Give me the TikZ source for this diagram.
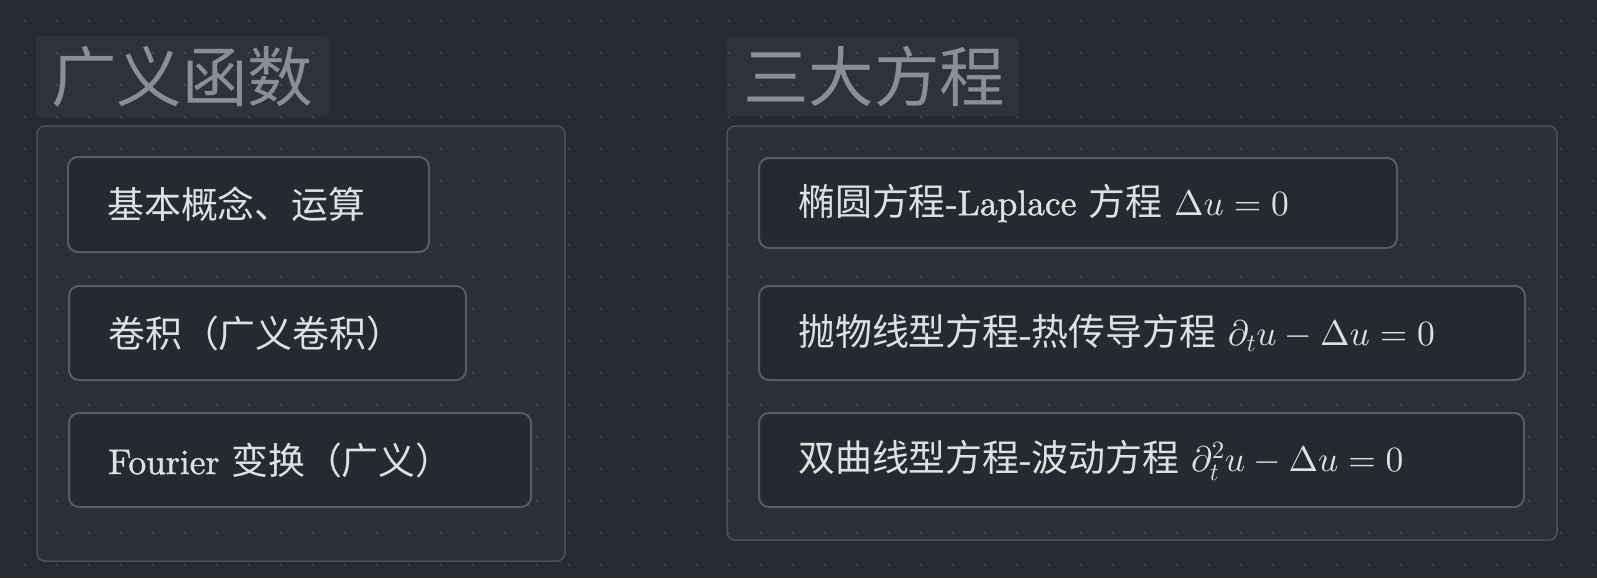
\documentclass[tikz,border=0pt]{standalone}
\usepackage{amsmath}
\usepackage{fontspec}
\setmainfont{lmroman10-regular.otf}[RawFeature={embolden=1.3}]
\newfontfamily\cjk{Noto Sans CJK SC}[Scale=1.04]
\DeclareFontShape{OT1}{cmr}{m}{n}{<->cmr10}{}
\DeclareFontShape{OML}{cmm}{m}{it}{<->cmmi10}{}
\DeclareFontShape{OMS}{cmsy}{m}{n}{<->cmsy10}{}
\DeclareFontShape{OMX}{cmex}{m}{n}{<->cmex10}{}
\definecolor{bgc}{HTML}{272A32}
\definecolor{dotc}{HTML}{42464F}
\definecolor{grpline}{HTML}{4B505B}
\definecolor{boxfill}{HTML}{262930}
\definecolor{boxline}{HTML}{575C68}
\definecolor{titlec}{HTML}{8A8E99}
\definecolor{txtc}{HTML}{DDE0E5}
\tikzset{
  grpbox/.style={draw=grpline, line width=1.5pt, fill=white, fill opacity=0.025, rounded corners=8pt, inner sep=0pt, draw opacity=1},
  titlebox/.style={fill=white, fill opacity=0.04, rounded corners=6pt, inner sep=0pt},
  itembox/.style={draw=boxline, line width=2pt, fill=boxfill, rounded corners=10pt, inner sep=0pt},
  itemtxt/.style={anchor=west, inner sep=0pt, text=txtc, font=\fontsize{35.5}{40}\selectfont},
  titletxt/.style={anchor=west, inner sep=0pt, text=titlec, font=\fontsize{63}{70}\selectfont\cjk},
}
\begin{document}
\begin{tikzpicture}[x=1pt, y=-1pt]
\useasboundingbox (0,0) rectangle (1597,578);
\fill[bgc] (0,0) rectangle (1597,578);
\foreach \i in {0,...,49}{
  \foreach \j in {0,...,17}{
    \fill[dotc] (25+32*\i, 21+32*\j) circle (1.4pt);
  }
}
% left column
\node[titlebox, minimum width=293pt, minimum height=81pt] (ltitle) at (182.5,76.5) {};
\node[titletxt] (ltitlet) at ([xshift=15pt]ltitle.west) {广义函数};
\node[grpbox, minimum width=528pt, minimum height=435pt] (lgrp) at (301,343.5) {};
\node[itembox, minimum width=361pt, minimum height=95pt] (l1) at (248.5,204.5) {};
\node[itemtxt] (l1t) at ([xshift=40pt]l1.west) {\cjk 基本概念、运算};
\node[itembox, minimum width=397pt, minimum height=94pt] (l2) at (267.5,333) {};
\node[itemtxt] (l2t) at ([xshift=40pt]l2.west) {\cjk 卷积（广义卷积）};
\node[itembox, minimum width=462pt, minimum height=94pt] (l3) at (300,460) {};
\node[itemtxt] (l3t) at ([xshift=40pt]l3.west) {Fourier {\cjk 变换（广义）}};
% right column
\node[titlebox, minimum width=292pt, minimum height=79pt] (rtitle) at (873,76.5) {};
\node[titletxt] (rtitlet) at ([xshift=16pt]rtitle.west) {三大方程};
\node[grpbox, minimum width=830pt, minimum height=414pt] (rgrp) at (1142,333) {};
\node[itembox, minimum width=638pt, minimum height=90pt] (r1) at (1078,203) {};
\node[itemtxt] (r1t) at ([xshift=40pt]r1.west) {{\cjk 椭圆方程}-Laplace {\cjk 方程} $\Delta u = 0$};
\node[itembox, minimum width=766pt, minimum height=94pt] (r2) at (1142,333) {};
\node[itemtxt] (r2t) at ([xshift=40pt]r2.west) {{\cjk 抛物线型方程}-{\cjk 热传导方程} $\partial_t u - \Delta u = 0$};
\node[itembox, minimum width=765pt, minimum height=94pt] (r3) at (1141.5,460) {};
\node[itemtxt] (r3t) at ([xshift=40pt]r3.west) {{\cjk 双曲线型方程}-{\cjk 波动方程} $\partial_t^2 u - \Delta u = 0$};
\end{tikzpicture}
\end{document}
